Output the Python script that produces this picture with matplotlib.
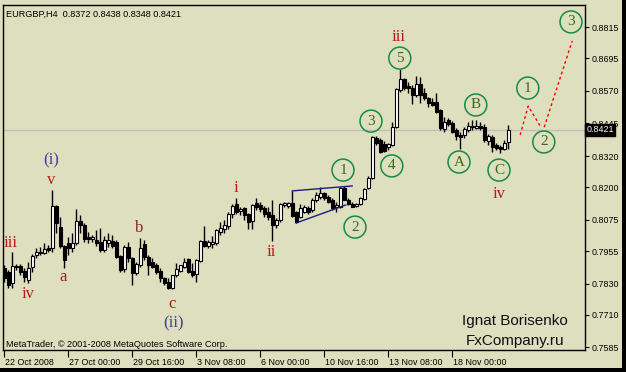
import numpy as np
import matplotlib.pyplot as plt
import matplotlib.transforms as mtransforms
from matplotlib.patches import Rectangle

# EURGBP H4 candles, 22 Oct - 20 Nov 2008
opens = [0.7890, 0.7875, 0.7832, 0.7898, 0.7898, 0.7878, 0.7844, 0.7894, 0.7940, 0.7947,
         0.7947, 0.7967, 0.7967, 0.8128, 0.8047, 0.7974, 0.7986, 0.7967, 0.7986, 0.8070,
         0.8055, 0.8009, 0.8001, 0.7997, 0.7990, 0.7959, 0.7986, 0.7994, 0.7990, 0.7936,
         0.7886, 0.7971, 0.7928, 0.7871, 0.7901, 0.7982, 0.7932, 0.7913, 0.7901, 0.7878,
         0.7851, 0.7836, 0.7813, 0.7863, 0.7878, 0.7894, 0.7924, 0.7878, 0.7867, 0.7917,
         0.7994, 0.7974, 0.7982, 0.7986, 0.8028, 0.8040, 0.8051, 0.8097, 0.8136, 0.8109,
         0.8120, 0.8097, 0.8070, 0.8139, 0.8132, 0.8120, 0.8105, 0.8093, 0.8055, 0.8074,
         0.8132, 0.8128, 0.8139, 0.8105, 0.8086, 0.8105, 0.8120, 0.8113, 0.8151, 0.8163,
         0.8178, 0.8163, 0.8151, 0.8124, 0.8124, 0.8197, 0.8151, 0.8136, 0.8128, 0.8136,
         0.8155, 0.8197, 0.8235, 0.8389, 0.8381, 0.8366, 0.8355, 0.8362, 0.8431, 0.8573,
         0.8616, 0.8589, 0.8581, 0.8554, 0.8596, 0.8562, 0.8543, 0.8527, 0.8527, 0.8497,
         0.8424, 0.8458, 0.8447, 0.8420, 0.8401, 0.8401, 0.8420, 0.8431, 0.8427, 0.8435,
         0.8431, 0.8378, 0.8393, 0.8362, 0.8355, 0.8347, 0.8372]
highs = [0.7901, 0.7882, 0.7951, 0.7905, 0.7905, 0.7890, 0.7913, 0.7944, 0.7967, 0.7971,
         0.7986, 0.7978, 0.8189, 0.8132, 0.8086, 0.7978, 0.8009, 0.8024, 0.8116, 0.8093,
         0.8063, 0.8028, 0.8017, 0.8036, 0.8044, 0.8013, 0.8024, 0.8017, 0.7997, 0.7940,
         0.7978, 0.7990, 0.7932, 0.7913, 0.8005, 0.7997, 0.7940, 0.7928, 0.7909, 0.7890,
         0.7855, 0.7851, 0.7863, 0.7909, 0.7901, 0.7928, 0.7928, 0.7909, 0.7924, 0.7997,
         0.8051, 0.7997, 0.8013, 0.8040, 0.8067, 0.8074, 0.8105, 0.8136, 0.8159, 0.8124,
         0.8124, 0.8101, 0.8136, 0.8159, 0.8143, 0.8128, 0.8124, 0.8151, 0.8082, 0.8139,
         0.8143, 0.8143, 0.8186, 0.8109, 0.8136, 0.8132, 0.8128, 0.8159, 0.8182, 0.8201,
         0.8182, 0.8170, 0.8159, 0.8143, 0.8201, 0.8205, 0.8159, 0.8143, 0.8139, 0.8163,
         0.8197, 0.8243, 0.8397, 0.8397, 0.8389, 0.8378, 0.8370, 0.8451, 0.8581, 0.8654,
         0.8620, 0.8604, 0.8593, 0.8627, 0.8623, 0.8581, 0.8546, 0.8543, 0.8562, 0.8500,
         0.8470, 0.8466, 0.8454, 0.8427, 0.8412, 0.8431, 0.8451, 0.8458, 0.8458, 0.8451,
         0.8443, 0.8404, 0.8401, 0.8370, 0.8362, 0.8381, 0.8438]
lows = [0.7836, 0.7813, 0.7813, 0.7882, 0.7863, 0.7836, 0.7832, 0.7875, 0.7928, 0.7940,
        0.7944, 0.7951, 0.7951, 0.8024, 0.7967, 0.7890, 0.7940, 0.7951, 0.7978, 0.8024,
        0.7990, 0.7986, 0.7990, 0.7974, 0.7951, 0.7951, 0.7971, 0.7967, 0.7928, 0.7875,
        0.7875, 0.7913, 0.7825, 0.7863, 0.7894, 0.7921, 0.7863, 0.7890, 0.7867, 0.7836,
        0.7825, 0.7809, 0.7809, 0.7855, 0.7875, 0.7890, 0.7871, 0.7855, 0.7836, 0.7913,
        0.7971, 0.7967, 0.7967, 0.7978, 0.8017, 0.8024, 0.8040, 0.8082, 0.8097, 0.8093,
        0.8074, 0.8040, 0.8040, 0.8113, 0.8105, 0.8086, 0.8074, 0.7994, 0.8044, 0.8067,
        0.8124, 0.8120, 0.8086, 0.8063, 0.8082, 0.8101, 0.8097, 0.8105, 0.8143, 0.8155,
        0.8151, 0.8139, 0.8113, 0.8105, 0.8120, 0.8151, 0.8132, 0.8124, 0.8124, 0.8132,
        0.8151, 0.8193, 0.8231, 0.8362, 0.8331, 0.8335, 0.8343, 0.8358, 0.8427, 0.8566,
        0.8573, 0.8562, 0.8520, 0.8546, 0.8523, 0.8535, 0.8508, 0.8512, 0.8485, 0.8420,
        0.8412, 0.8435, 0.8408, 0.8381, 0.8347, 0.8389, 0.8412, 0.8420, 0.8424, 0.8420,
        0.8374, 0.8362, 0.8335, 0.8343, 0.8331, 0.8343, 0.8348]
closes = [0.7851, 0.7825, 0.7898, 0.7894, 0.7875, 0.7855, 0.7890, 0.7936, 0.7951, 0.7951,
          0.7963, 0.7959, 0.8128, 0.8063, 0.7974, 0.7921, 0.7967, 0.7986, 0.8070, 0.8055,
          0.8001, 0.8001, 0.8009, 0.7986, 0.7959, 0.7997, 0.7997, 0.7974, 0.7932, 0.7882,
          0.7971, 0.7928, 0.7871, 0.7905, 0.7967, 0.7932, 0.7901, 0.7894, 0.7875, 0.7851,
          0.7832, 0.7813, 0.7863, 0.7886, 0.7901, 0.7913, 0.7875, 0.7863, 0.7921, 0.7994,
          0.7974, 0.7990, 0.7990, 0.8036, 0.8044, 0.8055, 0.8097, 0.8128, 0.8105, 0.8116,
          0.8093, 0.8067, 0.8132, 0.8124, 0.8116, 0.8097, 0.8086, 0.8055, 0.8074, 0.8136,
          0.8139, 0.8139, 0.8090, 0.8067, 0.8120, 0.8124, 0.8105, 0.8151, 0.8170, 0.8178,
          0.8159, 0.8143, 0.8120, 0.8132, 0.8197, 0.8151, 0.8136, 0.8124, 0.8136, 0.8159,
          0.8193, 0.8235, 0.8393, 0.8370, 0.8335, 0.8339, 0.8366, 0.8431, 0.8577, 0.8616,
          0.8581, 0.8581, 0.8554, 0.8596, 0.8554, 0.8543, 0.8523, 0.8516, 0.8489, 0.8427,
          0.8451, 0.8443, 0.8412, 0.8397, 0.8393, 0.8424, 0.8435, 0.8435, 0.8435, 0.8427,
          0.8381, 0.8397, 0.8355, 0.8351, 0.8347, 0.8370, 0.8421]

date_bars = [0, 16, 32, 48, 64, 80, 96, 112]
date_labels = ["22 Oct 2008", "27 Oct 00:00", "29 Oct 16:00", "3 Nov 08:00",
               "6 Nov 00:00", "10 Nov 16:00", "13 Nov 08:00", "18 Nov 00:00"]
price_ticks = [0.8815, 0.8695, 0.8570, 0.8445, 0.8320, 0.8200,
               0.8075, 0.7955, 0.7830, 0.7710, 0.7585]
last_price = 0.8421

# Elliott wave marks
circle_text = ["1", "2", "3", "4", "5", "A", "B", "C", "1", "2", "3"]
circle_x = [84.7, 87.7, 91.7, 96.9, 98.9, 113.7, 117.9, 123.7, 130.9, 134.9, 141.7]
circle_y = [0.8266, 0.8047, 0.8454, 0.8282, 0.8696, 0.8297, 0.8516, 0.8266,
            0.8581, 0.8374, 0.8835]

wave_text = ["iii", "iv", "v", "i", "ii", "iii", "iv"]
wave_x = [1.7, 5.9, 11.7, 57.9, 66.7, 98.7, 123.7]
wave_y = [0.7986, 0.7790, 0.8228, 0.8197, 0.7951, 0.8777, 0.8174]

abc_text = ["a", "b", "c"]
abc_x = [14.7, 33.7, 41.9]
abc_y = [0.7855, 0.8043, 0.7752]

major_text = ["(i)", "(ii)"]
major_x = [11.7, 42.2]
major_y = [0.8305, 0.7679]

proj1_x = [129, 131, 134]
proj1_y = [0.8401, 0.8512, 0.8435]
proj2_x = [135, 142]
proj2_y = [0.8431, 0.8762]

tri_up_x = [72, 87]
tri_up_y = [0.8186, 0.8205]
tri_lo_x = [73, 85.4]
tri_lo_y = [0.8063, 0.8132]

bg = "#dedfbe"
ui_font = "Liberation Sans"
serif = "Liberation Serif"

fig = plt.figure(figsize=(6.26, 3.72), dpi=100)
fig.patch.set_facecolor(bg)
ax = fig.add_axes([3 / 626, 1 - 350 / 372, 582 / 626, 345 / 372])
ax.set_facecolor(bg)

o = np.array(opens)
h = np.array(highs)
l = np.array(lows)
c = np.array(closes)
idx = np.arange(len(o))
up = c >= o

ax.axhline(last_price, color="#c0c0c0", lw=1, zorder=1)

ax.vlines(idx, l, h, color="black", lw=1, zorder=2)
body_lo = np.minimum(o, c)
body_h = np.maximum(np.abs(c - o), 0.00004)
ax.bar(idx, body_h, bottom=body_lo, width=0.7,
       color=np.where(up, "white", "black"), edgecolor="black", lw=0.8, zorder=3)

# triangle (wave 1-2 area)
ax.plot(tri_up_x, tri_up_y, color="#1c1c80", lw=1, zorder=4)
ax.plot(tri_lo_x, tri_lo_y, color="#1c1c80", lw=1, zorder=4)

# projected path
ax.plot(proj1_x, proj1_y, color="red", lw=1, ls=(0, (2, 2)), zorder=4)
ax.plot(proj2_x, proj2_y, color="red", lw=1, ls=(0, (2, 2)), zorder=4)

ax.scatter(circle_x, circle_y, s=250, facecolor="none", edgecolor="#178a45",
           lw=1.1, zorder=5)
for t, x, y in zip(circle_text, circle_x, circle_y):
    ax.text(x, y, t, ha="center", va="center", fontsize=11, family=serif,
            color="#3a6a18", zorder=6)

for t, x, y in zip(wave_text, wave_x, wave_y):
    ax.text(x, y, t, ha="center", va="center", fontsize=12, family=serif,
            color="#b81818", zorder=6)
for t, x, y in zip(abc_text, abc_x, abc_y):
    ax.text(x, y, t, ha="center", va="center", fontsize=12, family=serif,
            color="#962020", zorder=6)
for t, x, y in zip(major_text, major_x, major_y):
    ax.text(x, y, t, ha="center", va="center", fontsize=12, family=serif,
            color="#40409a", zorder=6)

ax.set_xlim(-0.3, 145.2)
ax.set_ylim(0.7575, 0.8900)

ax.yaxis.tick_right()
ax.set_yticks(price_ticks)
ax.set_yticklabels([f"{p:.4f}" for p in price_ticks], fontsize=6.4, family=ui_font)
ax.tick_params(axis="y", direction="out", length=3, width=0.8, pad=1.5, colors="black")

ax.set_xticks(date_bars)
ax.set_xticklabels(date_labels, fontsize=6.4, family=ui_font, ha="left")
ax.tick_params(axis="x", direction="out", length=5, width=0.8, pad=1)
for lab in ax.get_xticklabels():
    lab.set_transform(lab.get_transform() + mtransforms.ScaledTranslation(1 / 100, 0, fig.dpi_scale_trans))

for s in ax.spines.values():
    s.set_color("black")
    s.set_linewidth(1)

# current price box on the price scale
trans = mtransforms.blended_transform_factory(ax.transAxes, ax.transData)
ax.text(1.002, last_price, "0.8421", transform=trans, ha="left", va="center",
        fontsize=6.4, family=ui_font, color="white", clip_on=False, zorder=10,
        bbox=dict(boxstyle="square,pad=0.15", facecolor="black", edgecolor="black"))

ax.text(0.006, 0.985, "EURGBP,H4  0.8372 0.8438 0.8348 0.8421", transform=ax.transAxes,
        ha="left", va="top", fontsize=6.6, family=ui_font, color="black")
ax.text(0.006, 0.004, "MetaTrader, \u00a9 2001-2008 MetaQuotes Software Corp.",
        transform=ax.transAxes, ha="left", va="bottom", fontsize=6.6,
        family=ui_font, color="black")
ax.text(0.88, 0.085, "Ignat Borisenko", transform=ax.transAxes, ha="center",
        va="center", fontsize=11, family=ui_font, color="#101010")
ax.text(0.88, 0.025, "FxCompany.ru", transform=ax.transAxes, ha="center",
        va="center", fontsize=11, family=ui_font, color="#101010")

# window frame: dark strips on right and bottom
fig.add_artist(Rectangle((622 / 626, 0), 4 / 626, 1, transform=fig.transFigure,
                         facecolor="black", edgecolor="none"))
fig.add_artist(Rectangle((0, 0), 1, 4 / 372, transform=fig.transFigure,
                         facecolor="black", edgecolor="none"))

fig.savefig("out.png", dpi=100, facecolor=bg)
